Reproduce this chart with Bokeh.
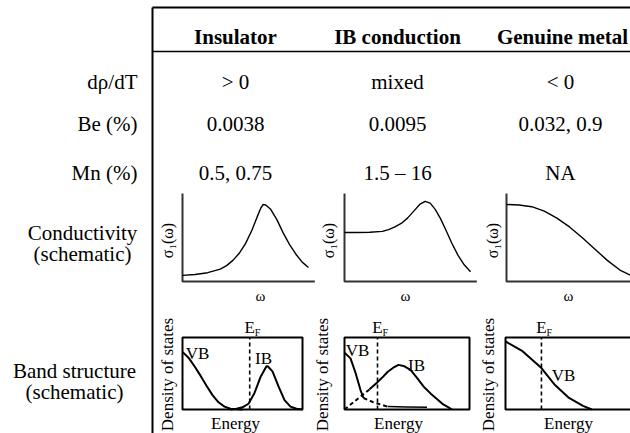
from bokeh.plotting import figure
from bokeh.models import Range1d
from bokeh.core.properties import value
from bokeh.embed import file_html
from bokeh.resources import INLINE
import math

# ---------------- data ----------------
columns = ["Insulator", "IB conduction", "Genuine metal"]
row_labels = ["d\u03c1/dT", "Be (%)", "Mn (%)"]
drho_dt = ["> 0", "mixed", "< 0"]
be_pct = ["0.0038", "0.0095", "0.032, 0.9"]
mn_pct = ["0.5, 0.75", "1.5 \u2013 16", "NA"]

# conductivity schematics (omega, sigma1) in schematic units 0..1
c1_x = [0, .1, .2, .3, .35, .4, .45, .5, .55, .6, .62, .64, .66, .7, .75, .8, .85, .9, .95, 1.0]
c1_y = [.07, .08, .10, .14, .18, .24, .32, .43, .58, .76, .83, .875, .87, .82, .70, .55, .42, .31, .22, .16]
c2_x = [0, .1, .2, .3, .35, .4, .45, .5, .55, .6, .64, .68, .72, .76, .8, .85, .9, .95, 1.0]
c2_y = [.557, .557, .56, .57, .59, .62, .66, .72, .80, .88, .91, .89, .82, .72, .60, .44, .30, .19, .11]
c3_x = [0, .1, .2, .3, .4, .5, .6, .7, .8, .9, 1.0]
c3_y = [.875, .87, .85, .80, .72, .62, .50, .37, .24, .13, .06]

# band structure schematics (energy, DOS) in schematic units 0..1
b1_vb_x = [0, .05, .1, .15, .2, .25, .3, .35, .4, .5]
b1_vb_y = [.80, .72, .60, .47, .33, .20, .10, .04, .01, 0]
b1_ib_x = [.40, .45, .50, .55, .60, .65, .70, .71, .75, .80, .85, .90, .95, 1.0]
b1_ib_y = [0, .01, .03, .08, .23, .45, .60, .60, .53, .32, .13, .04, .01, 0]
b1_ef = 0.56

b2_vb_x = [0, .048, .088, .128, .152]
b2_vb_y = [.79, .71, .51, .27, .16]
b2_vbtail_x = [.152, .232, .344]
b2_vbtail_y = [.16, .10, .04]
b2_vbflat_x = [.344, .5, .66]
b2_vbflat_y = [.04, .035, .03]
b2_ibtail_x = [0, .064, .128, .2]
b2_ibtail_y = [.0, .09, .18, .28]
b2_ib_x = [.2, .264, .3, .344, .39, .432, .48, .528, .58, .632, .69, .744, .79, .832, .86]
b2_ib_y = [.28, .38, .44, .52, .58, .62, .60, .55, .44, .32, .22, .14, .07, .03, 0]
b2_ef = 0.264

b3_vb_x = [0, .134, .283, .39, .50, .61, .68]
b3_vb_y = [.945, .81, .575, .34, .16, .05, 0]
b3_ef = 0.283

# ---------------- figure ----------------
W, H = 630, 433
X0, X1, Y0, Y1 = 0, 630, 0, 433
p = figure(width=W, height=H, x_range=Range1d(X0, X1), y_range=Range1d(Y1, Y0),
           x_axis_type=None, y_axis_type=None, toolbar_location=None,
           output_backend="svg", min_border=0)
p.grid.visible = False
p.outline_line_color = None

FONT = value("Liberation Serif")


def add_sub(name, L, R, T, B):
    w = R - L
    h = B - T
    p.extra_x_ranges[name] = Range1d(-(L - X0) / w, 1 + (X1 - R) / w)
    p.extra_y_ranges[name] = Range1d(-(Y1 - B) / h, 1 + (T - Y0) / h)


def txt(x, y, s, size, align="center", bold=False, angle=0.0, **kw):
    p.text(x=[x], y=[y], text=[s], text_font=FONT, text_font_size=value(size),
           text_align=align, text_baseline="middle", angle=angle,
           text_font_style="bold" if bold else "normal", text_color="black", **kw)


# table lines
p.segment(x0=[152, 152, 152], y0=[7, 7, 51], x1=[152, 640, 640], y1=[440, 7, 51],
          line_color="black", line_width=[2, 2, 1.5])

col_x = [235, 397, 560]
for cx, s in zip([235, 397, 562], columns):
    txt(cx, 36, s, "21px", bold=True)

row_y = [81, 123, 172]
for ry, lab in zip(row_y, row_labels):
    txt(137, ry, lab, "21px", align="right")
for vals, ry in zip([drho_dt, be_pct, mn_pct], row_y):
    for cx, s in zip(col_x, vals):
        txt(cx, ry, s, "21px")

txt(82, 232, "Conductivity", "21px")
txt(82, 253, "(schematic)", "21px")
txt(74, 370, "Band structure", "21px")
txt(74, 391, "(schematic)", "21px")

# conductivity panels
cond = [("c1", 182, 308, c1_x, c1_y, 167, 260),
        ("c2", 344, 470, c2_x, c2_y, 328, 405),
        ("c3", 506, 632, c3_x, c3_y, 492, 568)]
for name, L, R, xs, ys, lx, wx in cond:
    add_sub(name, L, R, 193, 281)
    p.line(x=[0, 0, 1.05], y=[1, 0, 0], x_range_name=name, y_range_name=name,
           line_color="#333333", line_width=2)
    p.line(x=xs, y=ys, x_range_name=name, y_range_name=name,
           line_color="black", line_width=1.4)
    txt(lx, 240, "\u03c3\u2081(\u03c9)", "16px", angle=math.pi / 2)
    txt(wx, 295, "\u03c9", "15px")

# band structure panels
bands = [("b1", 182, 302, b1_ef, 167, 235),
         ("b2", 344, 469, b2_ef, 322, 398),
         ("b3", 505, 632, b3_ef, 488, 568)]
for name, L, R, ef, dx, ex in bands:
    add_sub(name, L, R, 337, 409)
    p.quad(left=[0], right=[1], bottom=[0], top=[1], fill_color=None,
           line_color="black", line_width=2, x_range_name=name, y_range_name=name)
    p.segment(x0=[ef], y0=[0], x1=[ef], y1=[1], line_dash="4 3", line_color="black",
              line_width=1.6, x_range_name=name, y_range_name=name)
    p.text(x=[ef], y=[1], text=["E"], text_font=FONT, text_font_size=value("17px"),
           text_align="center", text_baseline="middle", y_offset=-10,
           x_range_name=name, y_range_name=name, text_color="black")
    p.text(x=[ef], y=[1], text=["F"], text_font=FONT, text_font_size=value("10px"),
           text_align="left", text_baseline="middle", y_offset=-5, x_offset=5,
           x_range_name=name, y_range_name=name, text_color="black")
    txt(dx, 374, "Density of states", "17px", angle=math.pi / 2)
    txt(ex, 423, "Energy", "17px")

kw1 = dict(x_range_name="b1", y_range_name="b1", line_color="black", line_width=2)
p.line(x=b1_vb_x, y=b1_vb_y, **kw1)
p.line(x=b1_ib_x, y=b1_ib_y, **kw1)
txt(197, 353, "VB", "17px")
txt(263, 358, "IB", "17px")

kw2 = dict(x_range_name="b2", y_range_name="b2", line_color="black", line_width=2)
p.line(x=b2_vb_x, y=b2_vb_y, **kw2)
p.line(x=b2_vbtail_x, y=b2_vbtail_y, line_dash="4 3", **kw2)
p.line(x=b2_vbflat_x, y=b2_vbflat_y, **dict(kw2, line_width=1.5))
p.line(x=b2_ibtail_x, y=b2_ibtail_y, line_dash="4 3", **kw2)
p.line(x=b2_ib_x, y=b2_ib_y, **kw2)
txt(357, 350, "VB", "17px")
txt(416, 365, "IB", "17px")

kw3 = dict(x_range_name="b3", y_range_name="b3", line_color="black", line_width=2)
p.line(x=b3_vb_x, y=b3_vb_y, **kw3)
txt(563, 375, "VB", "17px")

open("out.html", "w").write(file_html(p, INLINE))
